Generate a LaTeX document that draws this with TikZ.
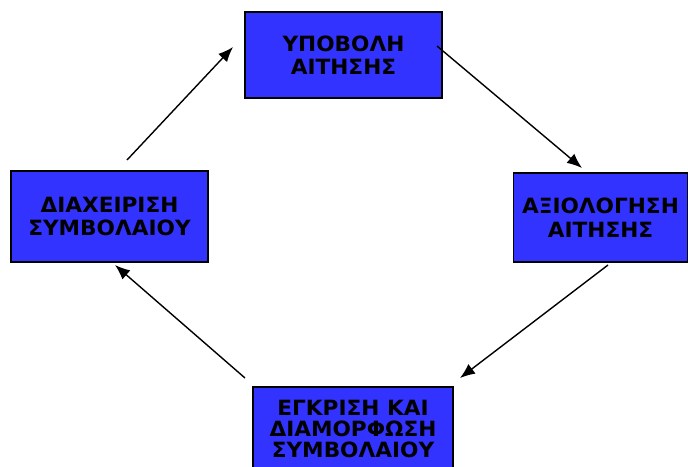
\documentclass[tikz,border=0pt]{standalone}
\usepackage{fontspec}
\setmainfont{DejaVu Sans}[FakeStretch=1.03]
\usetikzlibrary{arrows.meta}
\definecolor{boxblue}{RGB}{51,51,255}
\tikzset{
  stagebox/.style={draw=black, line width=1.5pt, fill=boxblue, inner sep=0pt, align=center,
    font=\fontsize{21}{23.5}\selectfont\bfseries},
  flow/.style={line width=1.4pt, -{Latex[length=15pt,width=12pt]}}
}
\begin{document}
\begin{tikzpicture}[x=1pt,y=-1pt]
\useasboundingbox (0,0) rectangle (688,466);
\node[stagebox, minimum width=197pt, minimum height=86pt] (submit) at (343.5,55) {ΥΠΟΒΟΛΗ\\ΑΙΤΗΣΗΣ};
\node[stagebox, minimum width=174pt, minimum height=89pt] (eval) at (600.5,217.5) {ΑΞΙΟΛΟΓΗΣΗ\\ΑΙΤΗΣΗΣ};
\node[stagebox, minimum width=200pt, minimum height=84pt, font=\fontsize{21}{21}\selectfont\bfseries] (approve) at (353,429) {ΕΓΚΡΙΣΗ ΚΑΙ\\ΔΙΑΜΟΡΦΩΣΗ\\ΣΥΜΒΟΛΑΙΟΥ};
\node[stagebox, minimum width=197pt, minimum height=91pt] (manage) at (109.5,216.5) {ΔΙΑΧΕΙΡΙΣΗ\\ΣΥΜΒΟΛΑΙΟΥ};
\coordinate (a1s) at (437,46);
\coordinate (a1e) at (582,168);
\coordinate (a2s) at (608,265);
\coordinate (a2e) at (460,378);
\coordinate (a3s) at (245,378);
\coordinate (a3e) at (115,265);
\coordinate (a4s) at (127,160);
\coordinate (a4e) at (233,47);
\draw[flow] (a1s) -- (a1e);
\draw[flow] (a2s) -- (a2e);
\draw[flow] (a3s) -- (a3e);
\draw[flow] (a4s) -- (a4e);
\end{tikzpicture}
\end{document}
